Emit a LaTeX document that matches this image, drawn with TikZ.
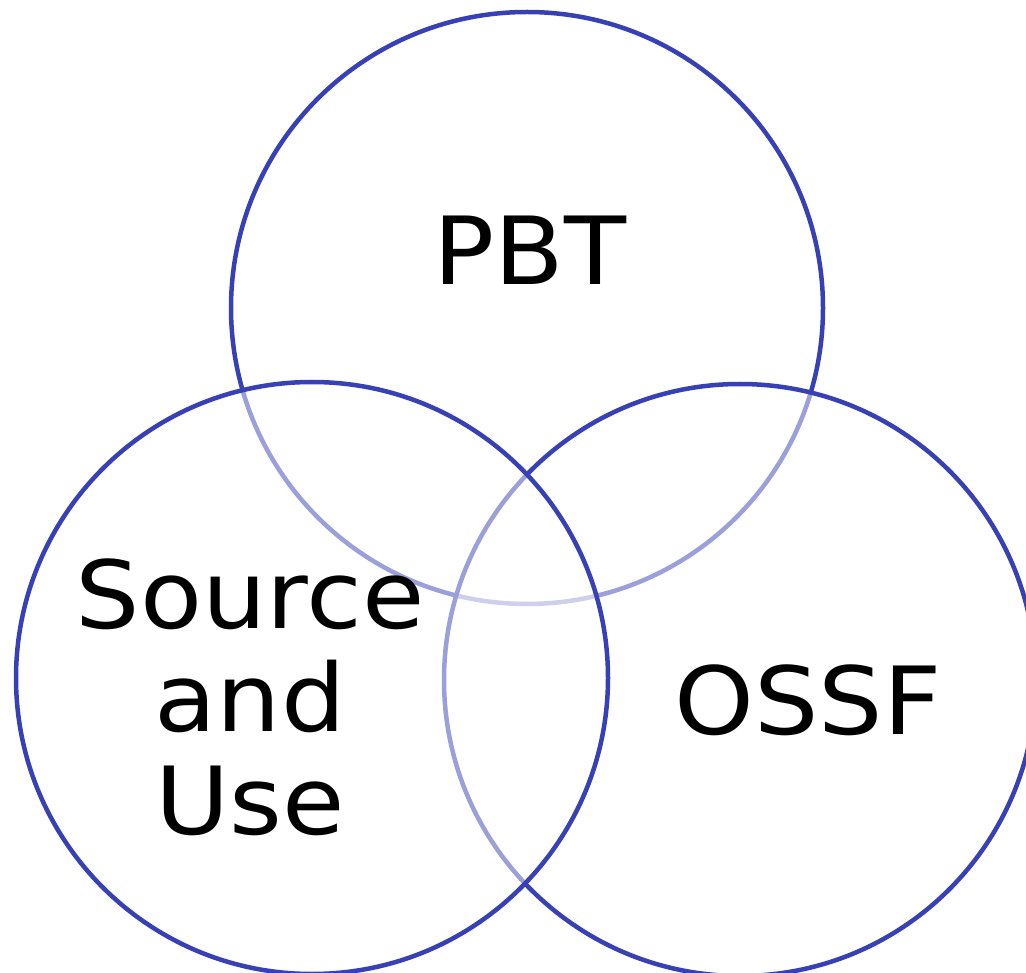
\documentclass[tikz,border=0pt]{standalone}
\usepackage{fontspec}
\setmainfont{DejaVu Sans}[FakeStretch=1.08]
\definecolor{ring}{RGB}{56,64,181}
\begin{document}
\begin{tikzpicture}[x=1pt,y=-1pt,
  ring/.style={draw=ring,line width=4.5pt,fill=white,fill opacity=0.5,draw opacity=1},
  lbl/.style={font=\fontsize{94}{103}\selectfont,align=center,text=black,inner sep=0pt}]
\useasboundingbox (0,0) rectangle (1026,973);
\path[ring] (527,308) circle (296);
\path[ring] (740,680) circle (296);
\path[ring] (312,678) circle (296);
\node[lbl] (pbt) at (530,250) {PBT};
\node[lbl] (su) at (250,697) {Source\\and\\Use};
\node[lbl] (ossf) at (808,700) {OSSF};
\end{tikzpicture}
\end{document}
